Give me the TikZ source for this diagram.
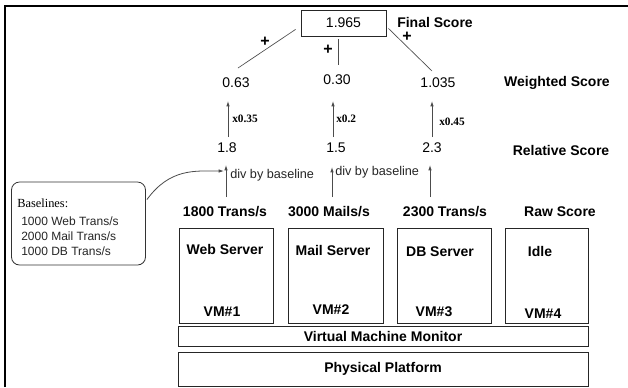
\documentclass[tikz,border=0pt]{standalone}
\usepackage{fontspec}
\setmainfont{Liberation Sans}
\newfontfamily\serifx{Liberation Serif}
\usetikzlibrary{arrows.meta,calc}
\begin{document}
\begin{tikzpicture}[x=0.75pt,y=-0.75pt,
 lbl/.style={font=\fontsize{10.5}{12}\selectfont\bfseries, inner sep=0},
 num/.style={font=\fontsize{10.5}{12}\selectfont, inner sep=0},
 boxs/.style={draw=black!85, line width=0.6pt, inner sep=0},
 vmbox/.style={boxs, minimum height=71.25pt},
 arr/.style={draw=black!70, line width=0.6pt, -{Latex[length=4pt,width=2.6pt]}},
 conn/.style={draw=black!70, line width=0.5pt},
 mult/.style={font=\serifx\bfseries\fontsize{8.5}{10}\selectfont, inner sep=0, anchor=west},
 divl/.style={font=\fontsize{9.5}{11}\selectfont, inner sep=0, anchor=west, text=black!85},
 base/.style={font=\fontsize{9}{11}\selectfont, inner sep=0, anchor=west, text=black!85},
 plus/.style={font=\fontsize{12}{14}\selectfont\bfseries, inner sep=0}]
\useasboundingbox (0,0) rectangle (628,387);
\fill[white] (0,0) rectangle (628,387);
\draw[line width=2.2pt] (5,387) -- (5,6) -- (628,6);

% final score
\node[boxs, num, minimum width=63.75pt, minimum height=19.5pt] (final) at (343.5,23) {1.965};
\node[lbl, anchor=west] (finall) at (397,22) {Final Score};
\node[plus] (p1) at (265,42) {+};
\node[plus] (p2) at (328,50) {+};
\node[plus] (p3) at (407,37) {+};

% weighted
\node[num] (w1) at (236,83) {0.63};
\node[num] (w2) at (337,80) {0.30};
\node[num] (w3) at (438,83) {1.035};
\node[lbl] (wl) at (557,83) {Weighted Score};

% relative
\node[num] (r1) at (227,148) {1.8};
\node[num] (r2) at (336,148) {1.5};
\node[num] (r3) at (432,148) {2.3};
\node[lbl] (rl) at (561,150) {Relative Score};

% raw
\node[lbl] (raw1) at (225,212) {1800 Trans/s};
\node[lbl] (raw2) at (329,212) {3000 Mails/s};
\node[lbl] (raw3) at (445,212) {2300 Trans/s};
\node[lbl] (rawl) at (560,212) {Raw Score};

% connectors to final
\draw[conn] ($(final.south west)+(-5,-7)$) -- ($(w1)+(2,-15)$);
\draw[conn] ($(final.south)+(-5.5,3)$) -- ($(w2)+(1,-15)$);
\draw[conn] ($(final.south east)+(2,-8)$) -- ($(w3)+(-6,-12)$);

% multiply arrows
\draw[arr] ($(r1)+(1,-11)$) -- ($(w1)+(-8,18)$);
\draw[arr] ($(r2)+(-3,-11)$) -- ($(w2)+(-4,21)$);
\draw[arr] ($(r3)+(0,-11)$) -- ($(w3)+(-6,18)$);
\node[mult] (m1) at (232,119) {x0.35};
\node[mult] (m2) at (336,119) {x0.2};
\node[mult] (m3) at (439,122) {x0.45};

% divide arrows
\draw[arr] ($(raw1)+(1,-15)$) -- ($(r1)+(-1,17)$);
\draw[arr] ($(raw2)+(3,-15)$) -- ($(r2)+(-4,19)$);
\draw[arr] ($(raw3)+(-15,-15)$) -- ($(r3)+(-2,17)$);
\node[divl] (d1) at (230,175) {div by baseline};
\node[divl] (d2) at (335,172) {div by baseline};

% baselines box
\node[draw=black!80, line width=0.6pt, rounded corners=6pt, minimum width=100.5pt, minimum height=62.25pt, inner sep=0] (bbox) at (78.5,223.5) {};
\node[inner sep=0, anchor=west, font=\serifx\fontsize{9.3}{11}\selectfont] (bt) at (17,203) {Baselines:};
\node[base] (b1) at (21,221) {1000 Web Trans/s};
\node[base] (b2) at (21,236) {2000 Mail Trans/s};
\node[base] (b3) at (21,251) {1000 DB Trans/s};
\draw[arr] ($(bbox.north east)+(1,18)$) .. controls (170,168) and (195,171) .. ($(r1)+(-3,23)$);

% VM boxes
\node[vmbox, minimum width=70.5pt] (vm1) at (226,275.5) {};
\node[vmbox, minimum width=71.25pt] (vm2) at (335.5,275.5) {};
\node[vmbox, minimum width=70.5pt] (vm3) at (444,275.5) {};
\node[vmbox, minimum width=62.25pt] (vm4) at (546.5,275.5) {};
\node[lbl] (t1) at (225,249) {Web Server};
\node[lbl] (t2) at (333,250) {Mail Server};
\node[lbl] (t3) at (440,252) {DB Server};
\node[lbl] (t4) at (540,251) {Idle};
\node[lbl] (n1) at (222,312) {VM\#1};
\node[lbl] (n2) at (331,310) {VM\#2};
\node[lbl] (n3) at (434,312) {VM\#3};
\node[lbl] (n4) at (543,314) {VM\#4};

% VMM and platform
\node[boxs, lbl, minimum width=307.5pt, minimum height=15pt] (vmm) at (383,336) {Virtual Machine Monitor};
\node[boxs, lbl, minimum width=307.5pt, minimum height=25.5pt] (phys) at (383,369) {Physical Platform};
\end{tikzpicture}
\end{document}
